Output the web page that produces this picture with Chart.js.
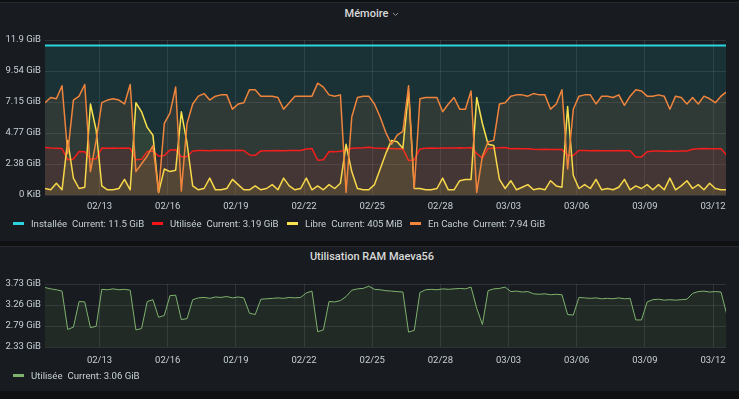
<!DOCTYPE html>
<html>
<head>
<meta charset="utf-8">
<script src="https://cdn.jsdelivr.net/npm/chart.js@4/dist/chart.umd.min.js"></script>
<style>
  html, body { margin: 0; padding: 0; }
  body { width: 739px; height: 399px; position: relative; overflow: hidden; background: #0f1012; font-family: Roboto, "Noto Sans", sans-serif; }
  .panel { position: absolute; left: 0; width: 739px; background: #181b1f; border-top: 1px solid #25282d; }
  .title { position: absolute; left: 0; width: 744px; text-align: center; color: #d8d9da; font-size: 11px; font-weight: 500; line-height: 14px; }
  .title svg { vertical-align: middle; margin-left: 4px; }
  .legend { position: absolute; left: 0; height: 12px; font-size: 9.6px; line-height: 12px; color: #c7d0d9; white-space: nowrap; }
  .item { position: absolute; top: 0; }
  .swatch { display: inline-block; width: 11px; height: 3px; vertical-align: middle; margin-right: 7px; position: relative; top: -1px; }
  .cur { margin-left: 5px; }
  canvas { position: absolute; left: 0; }
</style>
</head>
<body>
<div class="panel" style="top:2px;height:238px"></div>
<div class="panel" style="top:246px;height:144px"></div>

<div class="title" style="top:7px">Mémoire<svg width="7" height="5" viewBox="0 0 7 5"><path d="M1 1l2.5 2.5L6 1" stroke="#8e9399" stroke-width="1" fill="none"/></svg></div>
<canvas id="memChart" width="739" height="190" style="top:29px"></canvas>
<div class="legend" style="top:218px">
  <span class="item" style="left:13px"><span class="swatch" style="background:#2bd3dc"></span>Installée<span class="cur">Current: 11.5 GiB</span></span>
  <span class="item" style="left:152px"><span class="swatch" style="background:#f5141a"></span>Utilisée<span class="cur">Current: 3.19 GiB</span></span>
  <span class="item" style="left:287px"><span class="swatch" style="background:#f9e24d"></span>Libre<span class="cur">Current: 405 MiB</span></span>
  <span class="item" style="left:410px"><span class="swatch" style="background:#ef843c"></span>En Cache<span class="cur">Current: 7.94 GiB</span></span>
</div>

<div class="title" style="top:250px">Utilisation RAM Maeva56</div>
<canvas id="ramChart" width="739" height="97" style="top:274px"></canvas>
<div class="legend" style="top:370px">
  <span class="item" style="left:13px"><span class="swatch" style="background:#7eb26d"></span>Utilisée<span class="cur">Current: 3.06 GiB</span></span>
</div>

<script>
// time axis in days counted from 02/10 00:00, one sample every 6 h
const firstDay = 0.6;
const stepDays = 0.25;
const xTickDays = [3, 6, 9, 12, 15, 18, 21, 24, 27, 30];
const xTickLabels = ['02/13', '02/16', '02/19', '02/22', '02/25', '02/28', '03/03', '03/06', '03/09', '03/12'];

const memTickValues = [0, 2.384, 4.768, 7.152, 9.536, 11.92];
const memTickLabels = ['0 KiB', '2.38 GiB', '4.77 GiB', '7.15 GiB', '9.54 GiB', '11.9 GiB'];
const ramTickValues = [2.33, 2.796, 3.262, 3.728];
const ramTickLabels = ['2.33 GiB', '2.79 GiB', '3.26 GiB', '3.73 GiB'];

// GiB
const installee = 11.5;
const utilisee = [
  3.65, 3.62, 3.60, 3.57, 2.72, 2.77, 3.34, 3.33, 2.76, 2.79,
  3.61, 3.60, 3.62, 3.60, 3.61, 3.59, 2.71, 2.74, 3.34, 3.38,
  2.99, 3.03, 3.47, 3.48, 2.94, 2.96, 3.38, 3.42, 3.43, 3.41,
  3.44, 3.43, 3.45, 3.42, 3.44, 3.42, 3.08, 3.05, 3.39, 3.40,
  3.41, 3.42, 3.41, 3.43, 3.42, 3.43, 3.53, 3.57, 2.67, 2.71,
  3.34, 3.33, 3.36, 3.45, 3.59, 3.62, 3.63, 3.68, 3.61, 3.60,
  3.58, 3.57, 3.56, 3.55, 2.66, 2.70, 3.54, 3.60, 3.61, 3.60,
  3.62, 3.61, 3.62, 3.63, 3.62, 3.66, 3.19, 2.83, 3.58, 3.62,
  3.63, 3.66, 3.56, 3.57, 3.55, 3.56, 3.51, 3.50, 3.51, 3.49,
  3.50, 3.49, 3.05, 3.04, 3.43, 3.42, 3.41, 3.42, 3.40, 3.41,
  3.40, 3.42, 3.40, 3.41, 2.93, 2.93, 3.33, 3.38, 3.39, 3.37,
  3.38, 3.37, 3.38, 3.39, 3.52, 3.56, 3.57, 3.55, 3.56, 3.55,
  3.06
];
const libre = [
  0.5, 0.4, 0.9, 0.4, 4.2, 1.3, 0.5, 0.6, 7.0, 5.0,
  0.7, 0.4, 0.4, 0.5, 1.2, 0.4, 7.1, 6.4, 5.2, 4.6,
  0.2, 2.0, 1.8, 1.9, 6.4, 4.0, 0.7, 0.4, 0.5, 1.3,
  0.4, 0.4, 0.5, 1.2, 0.8, 0.4, 0.4, 0.7, 0.4, 0.5,
  0.8, 0.4, 1.3, 0.7, 0.4, 0.5, 1.3, 0.4, 0.7, 0.4,
  0.8, 0.5, 0.9, 3.9, 1.8, 0.5, 0.4, 0.4, 0.8, 2.0,
  3.2, 4.2, 4.1, 3.6, 8.0, 0.5, 0.5, 0.4, 0.4, 0.5,
  1.3, 0.4, 0.4, 1.1, 1.2, 1.2, 7.5, 5.5, 3.9, 3.8,
  1.2, 0.5, 1.1, 0.4, 0.6, 0.8, 0.4, 0.5, 0.4, 1.1,
  0.7, 0.6, 6.8, 1.5, 0.5, 0.8, 0.5, 1.2, 0.4, 0.5,
  0.4, 0.6, 1.2, 0.4, 0.7, 0.5, 0.8, 0.4, 0.8, 0.4,
  1.3, 0.4, 0.7, 1.1, 0.5, 0.8, 0.4, 0.9, 0.5, 0.4,
  0.40
];
const enCache = [
  7.1, 7.5, 7.4, 8.4, 3.2, 7.3, 7.6, 8.5, 1.8, 4.2,
  7.1, 7.3, 7.4, 7.3, 7.0, 8.5, 1.8, 2.4, 3.0, 3.8,
  0.2, 5.5, 6.3, 8.3, 0.3, 5.5, 7.0, 7.6, 7.8, 7.3,
  7.6, 7.7, 7.7, 6.6, 7.0, 7.1, 8.1, 8.1, 7.6, 7.6,
  7.6, 7.5, 6.6, 7.1, 7.6, 7.6, 7.6, 7.6, 8.6, 8.3,
  7.7, 7.6, 7.7, 0.2, 6.0, 7.5, 7.6, 7.6, 7.0, 6.0,
  4.8, 3.9, 4.6, 4.9, 8.4, 0.5, 7.4, 7.5, 7.5, 7.5,
  6.4, 7.0, 7.5, 6.6, 6.6, 8.0, 0.2, 3.0, 4.1, 4.2,
  7.0, 7.1, 7.6, 7.7, 7.7, 7.6, 7.8, 7.7, 7.7, 6.6,
  7.0, 8.1, 2.0, 6.6, 7.6, 7.7, 7.7, 7.0, 7.6, 7.6,
  7.5, 7.7, 6.9, 7.6, 8.1, 8.0, 7.6, 7.6, 7.7, 7.6,
  6.6, 7.6, 7.5, 7.0, 7.5, 7.0, 7.6, 7.4, 7.1, 7.6,
  7.94
];

const times = utilisee.map((_, i) => +(firstDay + i * stepDays).toFixed(2));
const xMin = 0.6, xMax = 30.57;

const tickColor = '#c7d0d9';
const gridColor = 'rgba(204, 214, 224, 0.12)';
Chart.defaults.font.family = 'Roboto, "Noto Sans", sans-serif';

function xAxis(pad) {
  return {
    type: 'linear', min: xMin, max: xMax,
    afterBuildTicks: s => { s.ticks = xTickDays.map(v => ({ value: v })); },
    afterFit: s => { s.height = 24; },
    ticks: { callback: (v, i) => xTickLabels[i], color: tickColor, font: { size: 9.5 }, padding: pad, maxRotation: 0, autoSkip: false },
    grid: { color: gridColor, drawTicks: false },
    border: { display: false }
  };
}

function yAxis(min, max, values, labels) {
  return {
    min: min, max: max,
    afterBuildTicks: s => { s.ticks = values.map(v => ({ value: v })); },
    afterFit: s => { s.width = 45; },
    ticks: { callback: (v, i) => labels[i], color: tickColor, font: { size: 9.5 }, padding: 4 },
    grid: { color: gridColor, drawTicks: false },
    border: { display: false }
  };
}

const baseOptions = {
  responsive: false,
  animation: false,
  events: [],
  plugins: { legend: { display: false }, tooltip: { enabled: false } },
  elements: { point: { radius: 0 }, line: { tension: 0, borderJoinStyle: 'round' } }
};

new Chart(document.getElementById('memChart'), {
  type: 'line',
  data: {
    labels: times,
    datasets: [
      { label: 'En Cache', data: enCache, borderColor: '#ef843c', backgroundColor: 'rgba(239, 132, 60, 0.10)', borderWidth: 1.5, fill: 'origin', order: 1 },
      { label: 'Libre', data: libre, borderColor: '#f9e24d', backgroundColor: 'rgba(249, 226, 77, 0.10)', borderWidth: 1.5, fill: 'origin', order: 2 },
      { label: 'Utilisée', data: utilisee, borderColor: '#f5141a', backgroundColor: 'rgba(245, 20, 26, 0.10)', borderWidth: 1.5, fill: 'origin', order: 3 },
      { label: 'Installée', data: [{ x: xMin, y: installee }, { x: xMax, y: installee }], borderColor: '#2bd3dc', backgroundColor: 'rgba(43, 211, 220, 0.12)', borderWidth: 2, fill: 'origin', order: 4 }
    ]
  },
  options: Object.assign({}, baseOptions, {
    layout: { padding: { top: 11, right: 13, left: 0, bottom: 0 } },
    scales: { x: xAxis(6), y: yAxis(0, 11.92, memTickValues, memTickLabels) }
  })
});

new Chart(document.getElementById('ramChart'), {
  type: 'line',
  data: {
    labels: times,
    datasets: [
      { label: 'Utilisée', data: utilisee, borderColor: '#7eb26d', backgroundColor: 'rgba(126, 178, 109, 0.10)', borderWidth: 1, fill: 'start' }
    ]
  },
  options: Object.assign({}, baseOptions, {
    layout: { padding: { top: 10, right: 13, left: 0, bottom: 0 } },
    scales: { x: xAxis(8), y: yAxis(2.33, 3.728, ramTickValues, ramTickLabels) }
  })
});
</script>
</body>
</html>
